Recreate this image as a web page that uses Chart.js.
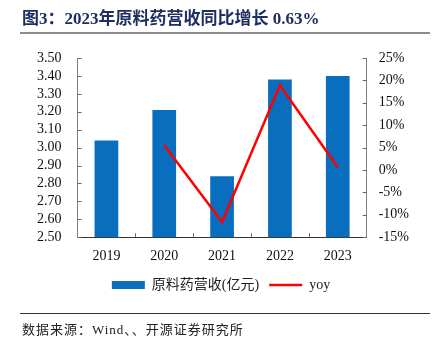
<!DOCTYPE html>
<html>
<head>
<meta charset="utf-8">
<script src="https://cdn.jsdelivr.net/npm/chart.js@4.4.1/dist/chart.umd.min.js"></script>
<style>
  html, body { margin: 0; padding: 0; background: #fff; }
  #wrap { position: relative; width: 435px; height: 350px; overflow: hidden; }
  #chart { position: absolute; left: 0; top: 0; }
  .title {
    position: absolute; left: 22px; top: 4px;
    font: bold 17px "Liberation Serif", "Noto Sans CJK SC", serif;
    color: #1d2f62; white-space: nowrap;
  }
  .rule1 { position: absolute; left: 20px; width: 410px; top: 32px; height: 2px; background: #8c8c8c; }
  .rule2 { position: absolute; left: 20px; width: 410px; top: 313px; height: 1px; background: #333; }
  .source {
    position: absolute; left: 22px; top: 319px;
    font: 13px "Liberation Serif", "Noto Sans CJK SC", serif;
    color: #222; white-space: nowrap; letter-spacing: 1px;
  }
</style>
</head>
<body>
<div id="wrap">
  <canvas id="chart" width="435" height="350"></canvas>
  <div class="title">图3：2023年原料药营收同比增长 0.63%</div>
  <div class="rule1"></div>
  <div class="rule2"></div>
  <div class="source">数据来源：Wind、、开源证券研究所</div>
</div>
<script>
// data
const years = ['2019', '2020', '2021', '2022', '2023'];
const revenue = [3.04, 3.21, 2.84, 3.38, 3.40];   // 原料药营收(亿元)
const yoy = [null, 5.5, -11.6, 18.9, 0.63];        // %
const leftTicks = [2.5, 3.5, 0.1];
const rightTicks = [-15, 25, 5];

const serif = '"Liberation Serif", "Times New Roman", "Noto Sans CJK SC", serif';

// short tick marks pointing into the plot area
const innerTicks = {
  id: 'innerTicks',
  afterDraw(chart) {
    const ctx = chart.ctx;
    const a = chart.chartArea;
    const x = chart.scales.x, y = chart.scales.y, y1 = chart.scales.y1;
    ctx.save();
    ctx.lineWidth = 1;
    ctx.strokeStyle = '#666';
    ctx.beginPath();
    y.ticks.forEach((t, i) => {
      const py = Math.round(y.getPixelForTick(i)) + 0.5;
      ctx.moveTo(a.left, py); ctx.lineTo(a.left + 4, py);
    });
    y1.ticks.forEach((t, i) => {
      const py = Math.round(y1.getPixelForTick(i)) + 0.5;
      ctx.moveTo(a.right, py); ctx.lineTo(a.right - 4, py);
    });
    for (let i = 0; i < years.length - 1; i++) {
      const px = Math.round((x.getPixelForValue(i) + x.getPixelForValue(i + 1)) / 2) + 0.5;
      ctx.moveTo(px, a.bottom); ctx.lineTo(px, a.bottom - 4);
    }
    ctx.stroke();
    ctx.restore();
  }
};

new Chart(document.getElementById('chart'), {
  data: {
    labels: years,
    datasets: [
      {
        type: 'line',
        label: 'yoy',
        data: yoy,
        yAxisID: 'y1',
        borderColor: '#ff0000',
        backgroundColor: '#ff0000',
        borderWidth: 2.5,
        pointRadius: 0,
        pointStyle: 'line',
        tension: 0,
        order: 0
      },
      {
        type: 'bar',
        label: '原料药营收(亿元)',
        data: revenue,
        yAxisID: 'y',
        backgroundColor: '#0a6ebf',
        borderColor: '#6fa6d8',
        borderWidth: 0,
        barPercentage: 0.41,
        categoryPercentage: 1,
        pointStyle: 'rect',
        order: 1
      }
    ]
  },
  options: {
    responsive: false,
    animation: false,
    layout: { padding: { left: 21, right: 14, top: 58, bottom: 48 } },
    plugins: {
      tooltip: { enabled: false },
      legend: {
        position: 'bottom',
        reverse: true,
        labels: {
          usePointStyle: true,
          pointStyleWidth: 33,
          boxHeight: 8,
          padding: 10,
          color: '#222',
          font: { family: serif, size: 14 }
        }
      }
    },
    scales: {
      x: {
        grid: { display: false },
        border: { color: '#333', width: 1 },
        ticks: { color: '#111', padding: 3, font: { family: serif, size: 14 } }
      },
      y: {
        position: 'left',
        min: leftTicks[0], max: leftTicks[1],
        grid: { display: false, drawTicks: false },
        border: { color: '#808080', width: 1 },
        ticks: {
          stepSize: leftTicks[2], padding: 16, color: '#111', autoSkip: false,
          font: { family: serif, size: 14 },
          callback: v => v.toFixed(2)
        }
      },
      y1: {
        position: 'right',
        min: rightTicks[0], max: rightTicks[1],
        grid: { display: false, drawTicks: false },
        border: { color: '#808080', width: 1 },
        ticks: {
          stepSize: rightTicks[2], padding: 12, color: '#111', autoSkip: false,
          font: { family: serif, size: 14 },
          callback: v => v + '%'
        }
      }
    }
  },
  plugins: [innerTicks]
});
</script>
</body>
</html>
